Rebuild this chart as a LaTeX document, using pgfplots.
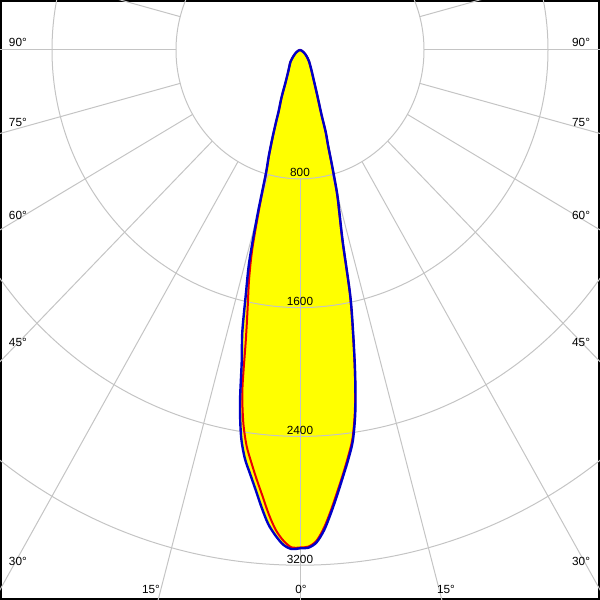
\documentclass[border=0pt]{standalone}
\usepackage{pgfplots}
\usepackage{pgfplotstable}
\pgfplotsset{compat=1.18}
\usepackage{fontspec}
\setmainfont{Liberation Sans}
\definecolor{gridc}{RGB}{196,196,196}
\definecolor{lblue}{RGB}{0,0,200}
\definecolor{lred}{RGB}{235,0,0}
\definecolor{lyellow}{RGB}{255,255,0}
\tikzset{lab/.style={font=\fontsize{5.9pt}{7pt}\selectfont, inner sep=0pt, outer sep=0pt, text=black}}

% angle measured from the downward vertical (deg), luminous intensity (cd)
\pgfplotstableread{
t I
-90 0
-70 10
-60 25
-50 50
-40 95
-30 150
-25 220
-22 320
-20 400
-19 480
-18 580
-17 690
-16 800
-15 1060
-14 1350
-13 1550
-12 1790
-11 1970
-10 2230
-9 2430
-8 2560
-7 2650
-6 2745
-5 2850
-4 2950
-3 3020
-2 3075
-1 3100
0 3095
1 3092
2 3060
3 2985
4 2880
5 2770
6 2662
7 2560
8 2450
9 2280
10 2050
11 1800
12 1560
13 1230
14 1060
15 930
16 760
17 620
18 540
19 430
20 370
22 290
25 215
30 150
40 90
50 50
60 25
70 10
90 0
}\blueplane

\pgfplotstableread{
t I
-90 0
-70 10
-60 25
-50 50
-40 95
-30 150
-25 215
-22 315
-20 395
-19 475
-18 570
-17 680
-16 790
-15 1010
-14 1270
-13 1460
-12 1620
-11 1830
-10 2140
-9 2340
-8 2480
-7 2580
-6 2680
-5 2780
-4 2890
-3 2985
-2 3050
-1 3090
0 3090
1 3085
2 3050
3 2970
4 2865
5 2755
6 2650
7 2545
8 2435
9 2265
10 2040
11 1790
12 1550
13 1220
14 1050
15 920
16 750
17 615
18 535
19 425
20 365
22 285
25 210
30 148
40 88
50 50
60 25
70 10
90 0
}\redplane

\begin{document}
\begin{tikzpicture}
\begin{axis}[
  scale only axis, width=300pt, height=300pt,
  xmin=-1935.5, xmax=1935.5, ymin=-3416.1, ymax=310.6,
  xtick=\empty, ytick=\empty,
  axis line style={line width=2pt, black},
  clip=true,
]
\addplot[draw=none, fill=lyellow, smooth, data cs=polar] table[x expr=\thisrow{t}-90, y=I]{\blueplane};
\addplot[draw=none, fill=lyellow, smooth, data cs=polar] table[x expr=\thisrow{t}-90, y=I]{\redplane};

\draw[gridc, line width=0.5pt] (axis cs:0,0) circle [radius=800];
\draw[gridc, line width=0.5pt] (axis cs:0,0) circle [radius=1600];
\draw[gridc, line width=0.5pt] (axis cs:0,0) circle [radius=2400];
\draw[gridc, line width=0.5pt] (axis cs:0,0) circle [radius=3200];
\pgfplotsinvokeforeach{0,15,...,345}{
  \draw[gridc, line width=0.5pt] (axis cs:{800*cos(#1)},{800*sin(#1)}) -- (axis cs:{6000*cos(#1)},{6000*sin(#1)});
}

\node[lab] at (rel axis cs:0.5,{1-172.5/600}) {800};
\node[lab] at (rel axis cs:0.5,{1-301/600}) {1600};
\node[lab] at (rel axis cs:0.5,{1-430/600}) {2400};
\node[lab] at (rel axis cs:0.5,{1-559/600}) {3200};

\node[lab, anchor=west] at (rel axis cs:{9/600},{1-42/600}) {90°};
\node[lab, anchor=west] at (rel axis cs:{9/600},{1-122/600}) {75°};
\node[lab, anchor=west] at (rel axis cs:{9/600},{1-215/600}) {60°};
\node[lab, anchor=west] at (rel axis cs:{9/600},{1-342/600}) {45°};
\node[lab, anchor=west] at (rel axis cs:{9/600},{1-561/600}) {30°};
\node[lab, anchor=east] at (rel axis cs:{590/600},{1-42/600}) {90°};
\node[lab, anchor=east] at (rel axis cs:{590/600},{1-122/600}) {75°};
\node[lab, anchor=east] at (rel axis cs:{590/600},{1-215/600}) {60°};
\node[lab, anchor=east] at (rel axis cs:{590/600},{1-342/600}) {45°};
\node[lab, anchor=east] at (rel axis cs:{590/600},{1-561/600}) {30°};
\node[lab] at (rel axis cs:{151/600},{1-589/600}) {15°};
\node[lab] at (rel axis cs:{301/600},{1-589/600}) {0°};
\node[lab] at (rel axis cs:{446/600},{1-589/600}) {15°};

\addplot[lred, line width=1pt, smooth, data cs=polar] table[x expr=\thisrow{t}-90, y=I]{\redplane};
\addplot[lblue, line width=1.2pt, smooth, data cs=polar] table[x expr=\thisrow{t}-90, y=I]{\blueplane};
\end{axis}
\pgfresetboundingbox
\useasboundingbox (current axis.south west) rectangle (current axis.north east);
\end{tikzpicture}
\end{document}
